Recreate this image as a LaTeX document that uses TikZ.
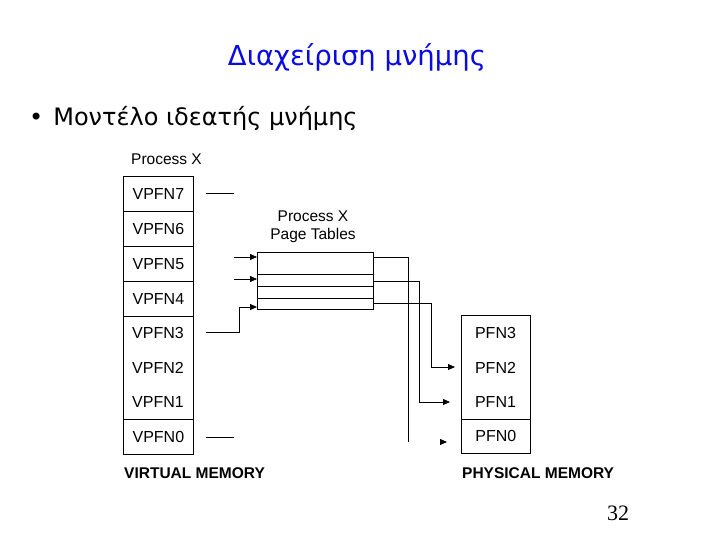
\documentclass[tikz,border=0pt]{standalone}
\usepackage{fontspec}
\setmainfont{Liberation Sans}
\newfontfamily\greekfont{DejaVu Sans}
\newfontfamily\numfont{Liberation Serif}
\usetikzlibrary{arrows.meta}
\definecolor{titleblue}{RGB}{10,10,225}
\tikzset{
  cell/.style={draw, line width=0.8pt, minimum width=70pt, minimum height=35pt, inner sep=0pt, anchor=north west, font=\fontsize{16}{19}\selectfont},
  lbl/.style={inner sep=0pt, font=\fontsize{16}{19}\selectfont},
  caption/.style={inner sep=0pt, font=\fontsize{15.5}{18}\selectfont\bfseries},
  ptrow/.style={draw, line width=0.8pt, minimum width=116pt, inner sep=0pt, anchor=north west},
  wire/.style={line width=0.8pt},
  arr/.style={line width=0.8pt, -{Triangle[length=7pt,width=6pt]}},
}
\begin{document}
\begin{tikzpicture}[x=1pt,y=-1pt]
\useasboundingbox (0,0) rectangle (720,540);
\fill[white] (0,0) rectangle (720,540);
% title and bullet
\node[inner sep=0pt, text=titleblue, font=\greekfont\fontsize{27.5}{32}\selectfont] (title) at (357,57) {Διαχείριση μνήμης};
\node[inner sep=0pt, anchor=west, font=\greekfont\fontsize{24}{29}\selectfont] (bullet) at (29,118) {•\hspace{10pt}Μοντέλο ιδεατής μνήμης};
% virtual memory
\node[lbl, anchor=west, font=\fontsize{15.5}{18}\selectfont] (px) at (131,159) {Process X};
\node[cell] (v7) at (123,176) {VPFN7};
\node[cell] (v6) at (123,211) {VPFN6};
\node[cell] (v5) at (123,246) {VPFN5};
\node[cell] (v4) at (123,281) {VPFN4};
\node[draw, line width=0.8pt, minimum width=70pt, minimum height=103pt, inner sep=0pt, anchor=north west] (vmid) at (123,316) {};
\node[lbl] (v3) at (158,333) {VPFN3};
\node[lbl] (v2) at (158,367.5) {VPFN2};
\node[lbl] (v1) at (158,402) {VPFN1};
\node[cell] (v0) at (123,419) {VPFN0};
\node[caption, anchor=west] (vmcap) at (124,473) {VIRTUAL MEMORY};
% page tables
\node[lbl, align=center, font=\fontsize{15.5}{18.5}\selectfont] (ptl) at (313,227) {Process X\\Page Tables};
\node[ptrow, minimum height=22pt] (p0) at (257,252) {};
\node[ptrow, minimum height=12pt] (p1) at (257,274) {};
\node[ptrow, minimum height=12pt] (p2) at (257,286) {};
\node[ptrow, minimum height=11pt] (p3) at (257,298) {};
% physical memory
\node[draw, line width=0.8pt, minimum width=69pt, minimum height=104pt, inner sep=0pt, anchor=north west] (pmid) at (461,315) {};
\node[draw, line width=0.8pt, minimum width=69pt, minimum height=34pt, inner sep=0pt, anchor=north west, font=\fontsize{16}{19}\selectfont] (f0) at (461,419) {PFN0};
\node[lbl] (f3) at (495.5,333) {PFN3};
\node[lbl] (f2) at (495.5,367.5) {PFN2};
\node[lbl] (f1) at (495.5,402) {PFN1};
\node[caption, anchor=west] (pmcap) at (462,473) {PHYSICAL MEMORY};
% page number
\node[inner sep=0pt, font=\numfont\fontsize{22}{26}\selectfont] (num) at (618,513) {32};
% connectors from virtual memory
\coordinate (e7a) at (206,193); \coordinate (e7b) at (234,193);
\draw[wire] (e7a) -- (e7b);
\coordinate (e0a) at (206,437); \coordinate (e0b) at (234,437);
\draw[wire] (e0a) -- (e0b);
\coordinate (e6) at (234,257);
\draw[arr] (e6) -- (e6 -| p0.west);
\coordinate (e5) at (234,279);
\draw[arr] (e5) -- (e5 -| p1.west);
\coordinate (e3a) at (206,332); \coordinate (e3b) at (239,332); \coordinate (e3c) at (239,307);
\draw[arr] (e3a) -- (e3b) -- (e3c) -- (e3c -| p3.west);
% connectors from page table to physical memory
\coordinate (r0a) at (373,257); \coordinate (r0b) at (408,257); \coordinate (r0c) at (408,442);
\draw[wire] (r0a) -- (r0b) -- (r0c);
\coordinate (r1a) at (373,281); \coordinate (r1b) at (419,281); \coordinate (r1c) at (419,402); \coordinate (r1d) at (450,402);
\draw[arr] (r1a) -- (r1b) -- (r1c) -- (r1d);
\coordinate (r2a) at (373,303); \coordinate (r2b) at (431,303); \coordinate (r2c) at (431,367); \coordinate (r2d) at (455,367);
\draw[arr] (r2a) -- (r2b) -- (r2c) -- (r2d);
\coordinate (r3a) at (440,442); \coordinate (r3b) at (447,442);
\draw[arr] (r3a) -- (r3b);
\end{tikzpicture}
\end{document}
